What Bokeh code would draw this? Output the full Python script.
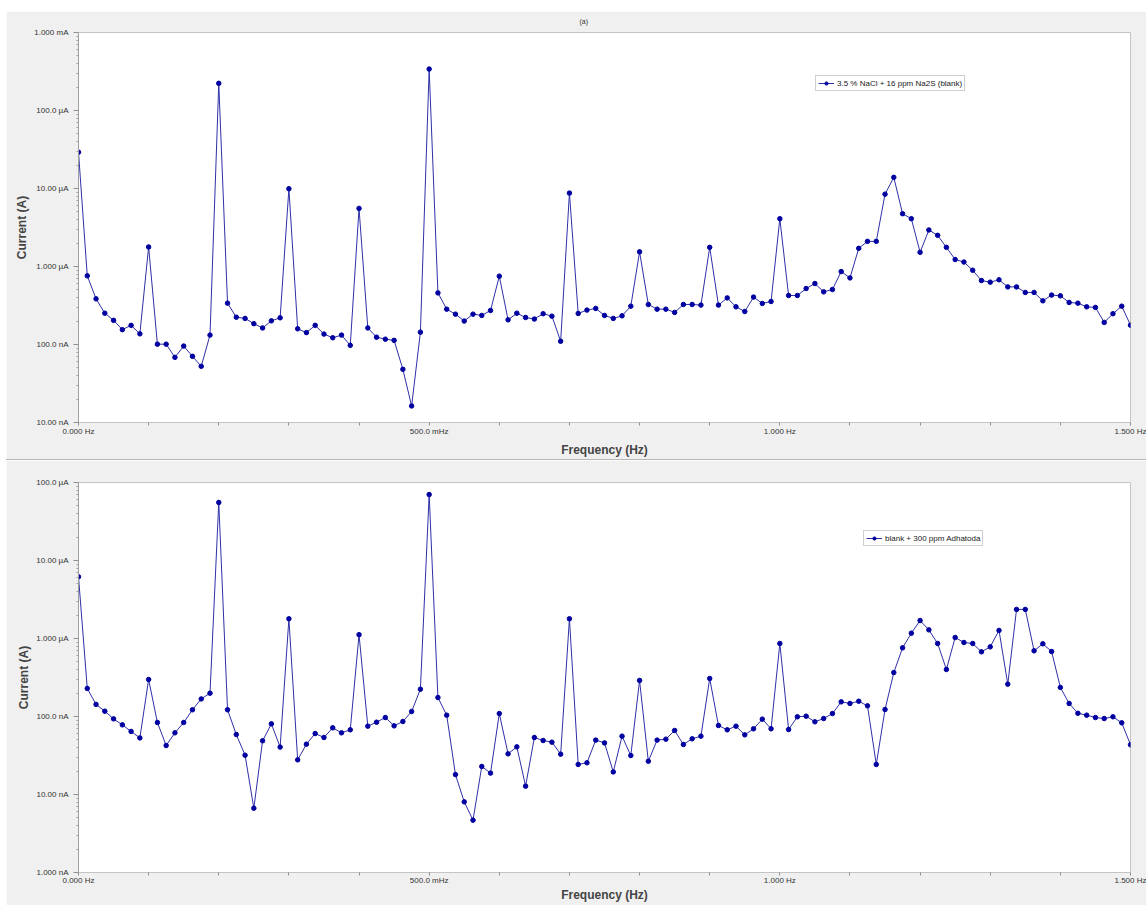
from bokeh.plotting import figure
from bokeh.models import Range1d, FixedTicker, Legend, LegendItem, Div, ColumnDataSource
from bokeh.layouts import column
from bokeh.embed import file_html
from bokeh.resources import INLINE

# ---------------- data ----------------
freq_hz = [k * 0.0125 for k in range(121)]

blank_uA = [29.2, 0.759, 0.385, 0.252, 0.204, 0.155, 0.176, 0.137, 1.78, 0.101,
            0.101, 0.0684, 0.0955, 0.0705, 0.0525, 0.132, 223, 0.339, 0.224, 0.216,
            0.185, 0.163, 0.201, 0.220, 9.93, 0.159, 0.142, 0.176, 0.136, 0.122,
            0.132, 0.0975, 5.56, 0.163, 0.124, 0.117, 0.113, 0.0481, 0.0163, 0.144,
            340, 0.459, 0.284, 0.245, 0.200, 0.245, 0.236, 0.273, 0.752, 0.207,
            0.252, 0.222, 0.212, 0.248, 0.231, 0.110, 8.73, 0.250, 0.276, 0.290,
            0.236, 0.216, 0.233, 0.310, 1.54, 0.326, 0.284, 0.284, 0.258, 0.326,
            0.326, 0.320, 1.76, 0.320, 0.396, 0.304, 0.265, 0.405, 0.336, 0.356,
            4.10, 0.425, 0.425, 0.522, 0.605, 0.473, 0.507, 0.861, 0.714, 1.71,
            2.10, 2.10, 8.47, 13.9, 4.75, 4.10, 1.52, 2.94, 2.51, 1.76,
            1.23, 1.14, 0.895, 0.661, 0.630, 0.675, 0.548, 0.548, 0.465, 0.465,
            0.363, 0.430, 0.421, 0.346, 0.339, 0.304, 0.299, 0.192, 0.248, 0.310,
            0.177]

inhib_uA = [6.18, 0.229, 0.143, 0.117, 0.0933, 0.0782, 0.0643, 0.0532, 0.298, 0.0838,
            0.0425, 0.0618, 0.0838, 0.122, 0.168, 0.199, 55.5, 0.122, 0.0587, 0.0319,
            0.00668, 0.0488, 0.0805, 0.0405, 1.79, 0.0278, 0.0442, 0.0605, 0.0538, 0.0716,
            0.0618, 0.0675, 1.12, 0.0752, 0.0845, 0.0970, 0.0759, 0.0863, 0.116, 0.224,
            70.1, 0.175, 0.104, 0.0180, 0.00805, 0.00469, 0.0229, 0.0188, 0.109, 0.0332,
            0.0408, 0.0128, 0.0538, 0.0492, 0.0469, 0.0329, 1.79, 0.0243, 0.0255, 0.0498,
            0.0459, 0.0195, 0.0560, 0.0316, 0.290, 0.0267, 0.0498, 0.0512, 0.0662, 0.0438,
            0.0518, 0.0560, 0.307, 0.0767, 0.0675, 0.0752, 0.0582, 0.0695, 0.0925, 0.0695,
            0.863, 0.0681, 0.0991, 0.101, 0.0855, 0.0942, 0.109, 0.154, 0.147, 0.157,
            0.137, 0.0243, 0.123, 0.366, 0.759, 1.17, 1.70, 1.29, 0.863, 0.401,
            1.03, 0.889, 0.863, 0.675, 0.782, 1.27, 0.260, 2.36, 2.36, 0.695,
            0.855, 0.681, 0.236, 0.147, 0.110, 0.104, 0.0970, 0.0942, 0.0991, 0.0830,
            0.0434]

x_major = [0.0, 0.5, 1.0, 1.5]
x_minor = [0.1, 0.2, 0.3, 0.4, 0.6, 0.7, 0.8, 0.9, 1.1, 1.2, 1.3, 1.4]
x_tick_labels = ["0.000 Hz", "500.0 mHz", "1.000 Hz", "1.500 Hz"]

top_decades = [1e-8, 1e-7, 1e-6, 1e-5, 1e-4, 1e-3]
top_tick_labels = ["10.00 nA", "100.0 nA", "1.000 \u00b5A", "10.00 \u00b5A", "100.0 \u00b5A", "1.000 mA"]
bot_decades = [1e-9, 1e-8, 1e-7, 1e-6, 1e-5, 1e-4]
bot_tick_labels = ["1.000 nA", "10.00 nA", "100.0 nA", "1.000 \u00b5A", "10.00 \u00b5A", "100.0 \u00b5A"]

legend_top = "3.5 % NaCl + 16 ppm Na2S (blank)"
legend_bot = "blank + 300 ppm Adhatoda"
panel_tag = "(a)"

# ---------------- styling ----------------
BG = "#f0f0f0"
LINE_C = "#2f2fa8"
DOT_C = "#0000a0"
FONT = "Liberation Sans"


def make_panel(values_uA, decades, dec_labels, legend_text, legend_loc,
               height, border_top, border_bottom, xlabel_standoff, xtick_standoff,
               title=None):
    p = figure(width=1140, height=height, y_axis_type="log",
               x_range=Range1d(0, 1.5), y_range=Range1d(decades[0], decades[-1]),
               output_backend="svg", toolbar_location=None,
               min_border_left=72, min_border_right=16,
               min_border_top=border_top, min_border_bottom=border_bottom,
               background_fill_color="white", border_fill_color=BG,
               outline_line_color="#c4c4c4")
    if title:
        p.title.text = title
        p.title.align = "left"
        p.title.offset = 501
        p.title.text_font = FONT
        p.title.text_font_size = "7px"
        p.title.text_font_style = "normal"
        p.title.text_color = "#333333"
        p.title.standoff = 12
        p.title.vertical_align = "top"
    p.xgrid.visible = False
    p.ygrid.visible = False

    src = ColumnDataSource(dict(f=freq_hz, i=[v * 1e-6 for v in values_uA]))
    ln = p.line("f", "i", source=src, line_color=LINE_C, line_width=1)
    dots = p.scatter("f", "i", source=src, size=4.5, fill_color=DOT_C, line_color=DOT_C)

    # x axis
    xa = p.xaxis[0]
    xa.ticker = FixedTicker(ticks=x_major, minor_ticks=x_minor)
    xa.major_label_overrides = {t: s for t, s in zip(x_major, x_tick_labels)}
    xa.axis_label = "Frequency (Hz)"
    xa.axis_label_text_font = FONT
    xa.axis_label_text_font_size = "12px"
    xa.axis_label_text_font_style = "bold"
    xa.axis_label_standoff = xlabel_standoff
    xa.major_label_text_font = FONT
    xa.major_label_text_font_size = "8px"
    xa.major_label_text_color = "#333333"
    xa.major_label_standoff = xtick_standoff
    xa.axis_line_color = "#c4c4c4"
    xa.major_tick_line_color = "#909090"
    xa.minor_tick_line_color = "#909090"
    xa.major_tick_in = 0
    xa.major_tick_out = 3
    xa.minor_tick_in = 0
    xa.minor_tick_out = 3

    # y axis
    ya = p.yaxis[0]
    minors = [m * d for d in decades[:-1] for m in range(2, 10)]
    ya.ticker = FixedTicker(ticks=decades, minor_ticks=minors)
    ya.major_label_overrides = {t: s for t, s in zip(decades, dec_labels)}
    ya.axis_label = "Current (A)"
    ya.axis_label_text_font = FONT
    ya.axis_label_text_font_size = "12px"
    ya.axis_label_text_font_style = "bold"
    ya.axis_label_standoff = 2
    ya.major_label_text_font = FONT
    ya.major_label_text_font_size = "8px"
    ya.major_label_text_color = "#333333"
    ya.major_label_standoff = 5
    ya.axis_line_color = "#a0a0a0"
    ya.major_tick_line_color = "#909090"
    ya.minor_tick_line_color = "#a0a0a0"
    ya.major_tick_in = 0
    ya.major_tick_out = 5
    ya.minor_tick_in = 0
    ya.minor_tick_out = 2

    leg = Legend(items=[LegendItem(label=legend_text, renderers=[ln, dots])],
                 location=legend_loc, orientation="vertical",
                 label_text_font=FONT, label_text_font_size="8px",
                 label_text_color="#222222",
                 glyph_width=16, glyph_height=8, label_height=10, label_width=10,
                 label_standoff=3, padding=2, spacing=0, margin=0,
                 border_line_color="#a0a0a0", border_line_width=1,
                 background_fill_color="white", background_fill_alpha=1)
    p.add_layout(leg)
    return p


p1 = make_panel(blank_uA, top_decades, top_tick_labels, legend_top, (737, 331),
                height=448, border_top=21, border_bottom=36,
                xlabel_standoff=4, xtick_standoff=1, title=panel_tag)

p2 = make_panel(inhib_uA, bot_decades, bot_tick_labels, legend_bot, (785, 326),
                height=445, border_top=22, border_bottom=33,
                xlabel_standoff=0, xtick_standoff=0)

divider = Div(text="", width=1140, height=1, margin=0,
              styles={"background-color": "#b8b8b8"})

layout = column(p1, divider, p2, margin=(11, 0, 0, 6), spacing=0)

open("out.html", "w").write(file_html(layout, INLINE))
